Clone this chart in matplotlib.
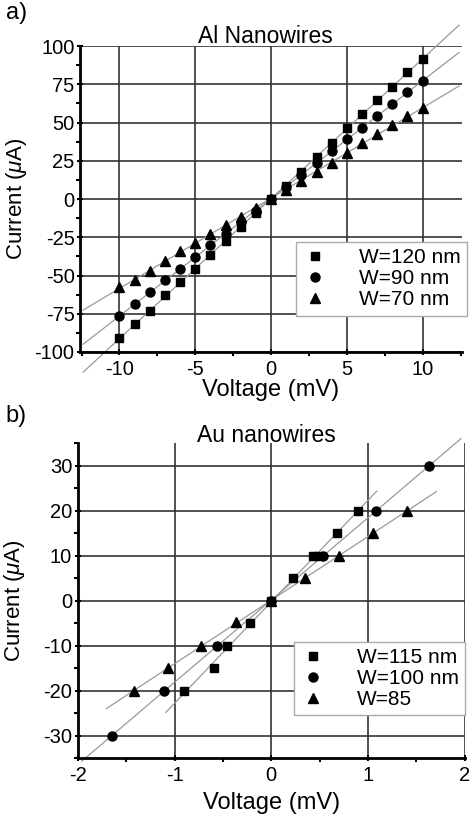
import numpy as np
import matplotlib
matplotlib.use("Agg")
import matplotlib.pyplot as plt
from matplotlib.ticker import MultipleLocator

plt.rcParams['font.family'] = ['Liberation Sans', 'DejaVu Sans']
plt.rcParams['mathtext.fontset'] = 'custom'
plt.rcParams['mathtext.rm'] = 'Liberation Sans'
plt.rcParams['mathtext.it'] = 'Liberation Sans:italic'
plt.rcParams['axes.unicode_minus'] = False

# a) Al nanowires
v_al = [-10, -9, -8, -7, -6, -5, -4, -3, -2, -1, 0, 1, 2, 3, 4, 5, 6, 7, 8, 9, 10]
i_al120 = [-91, -82, -73, -63, -54.5, -45.5, -36.6, -27.5, -18.3, -8.9, 0,
           8.5, 17.9, 27.7, 36.9, 46.4, 55.4, 64.5, 73.5, 82.8, 91.6]
i_al90 = [-76.5, -68.5, -61, -53.2, -45.5, -37.7, -30.3, -23, -15.2, -7.6, 0,
          7.7, 15.5, 23.8, 31.4, 39, 46.7, 54.5, 62.1, 69.8, 77.4]
i_al70 = [-57.7, -53.2, -47, -40.3, -34.2, -28.5, -22.7, -17, -11.5, -5.6, 0,
          6, 12, 17.7, 23.8, 30, 36.4, 42.7, 48.2, 54, 59.8]
labels_al = ['W=120 nm', 'W=90 nm', 'W=70 nm']

# b) Au nanowires
v_au115 = [-0.90, -0.59, -0.455, -0.224, 0, 0.22, 0.43, 0.48, 0.68, 0.895]
i_au115 = [-20, -15, -10, -5, 0, 5, 10, 10, 15, 20]
v_au100 = [-1.647, -1.11, -0.558, 0, 0.53, 1.085, 1.628]
i_au100 = [-30, -20, -10, 0, 10, 20, 30]
v_au85 = [-1.42, -1.068, -0.723, -0.362, 0, 0.347, 0.698, 1.05, 1.40]
i_au85 = [-20, -15, -10, -4.7, 0, 5, 10, 15, 20]
labels_au = ['W=115 nm', 'W=100 nm', 'W=85']

markers = ['s', 'o', '^']
msizes = [6.3, 6.5, 7.2]

fig = plt.figure(figsize=(4.71, 8.18), dpi=100)
ax1 = fig.add_axes([0.170, 0.5697, 0.811, 0.374])
ax2 = fig.add_axes([0.165, 0.073, 0.822, 0.385])


def style(ax):
    for s in ['top', 'right']:
        ax.spines[s].set_visible(False)
    for s in ['left', 'bottom']:
        ax.spines[s].set_linewidth(2)
    ax.grid(True, which='major', color='#333333', lw=1.2)
    ax.set_axisbelow(True)
    ax.tick_params(which='major', direction='inout', length=5, width=1.5,
                   labelsize=14.5, pad=1.5)
    ax.tick_params(axis='x', which='major', pad=3)
    ax.tick_params(which='minor', direction='out', length=3, width=1.5)


def fit_line(ax, v, i, ext):
    k = np.polyfit(v, i, 1)
    vmax = max(abs(np.array(v))) * ext
    xs = np.array([-vmax, vmax])
    ax.plot(xs, np.polyval(k, xs), color='#999999', lw=0.9, clip_on=False, zorder=2)


leg_kw = dict(loc='upper right', fontsize=15, fancybox=False, edgecolor='#aaaaaa',
              framealpha=1, handlelength=1.2, handletextpad=1.5, borderaxespad=0,
              labelspacing=0.1, borderpad=0.3)

# panel a
for v, i, m, ms, lab in zip([v_al] * 3, [i_al120, i_al90, i_al70], markers, msizes, labels_al):
    fit_line(ax1, v, i, 1.24)
    ax1.plot(v, i, m, color='black', ms=ms, label=lab, zorder=3, clip_on=False)
ax1.set_xlim(-12.6, 12.6)
ax1.set_ylim(-100, 100)
ax1.xaxis.set_major_locator(MultipleLocator(5))
ax1.xaxis.set_minor_locator(MultipleLocator(2.5))
ax1.yaxis.set_major_locator(MultipleLocator(25))
ax1.yaxis.set_minor_locator(MultipleLocator(12.5))
style(ax1)
ax1.set_xlabel('Voltage (mV)', fontsize=17)
ax1.set_ylabel('Current ($\\mu$A)', fontsize=16)
ax1.xaxis.set_label_coords(0.5, -0.088)
ax1.yaxis.set_label_coords(-0.135, 0.5)
ax1.text(0.484, 1.03, 'Al Nanowires', transform=ax1.transAxes,
         ha='center', va='center', fontsize=16.5)
ax1.legend(bbox_to_anchor=(1.012, 0.36), **leg_kw)

# panel b
for v, i, m, ms, lab, ext in zip([v_au115, v_au100, v_au85], [i_au115, i_au100, i_au85],
                                 markers, msizes, labels_au, [1.21, 1.19, 1.2]):
    fit_line(ax2, v, i, ext)
    ax2.plot(v, i, m, color='black', ms=ms, label=lab, zorder=3, clip_on=False)
ax2.set_xlim(-2, 2)
ax2.set_ylim(-35, 35)
ax2.xaxis.set_major_locator(MultipleLocator(1))
ax2.xaxis.set_minor_locator(MultipleLocator(0.5))
ax2.yaxis.set_major_locator(MultipleLocator(10))
ax2.yaxis.set_minor_locator(MultipleLocator(5))
style(ax2)
ax2.set_xlabel('Voltage (mV)', fontsize=17)
ax2.set_ylabel('Current ($\\mu$A)', fontsize=16)
ax2.xaxis.set_label_coords(0.5, -0.108)
ax2.yaxis.set_label_coords(-0.13, 0.5)
ax2.text(0.488, 1.025, 'Au nanowires', transform=ax2.transAxes,
         ha='center', va='center', fontsize=16.5)
ax2.legend(bbox_to_anchor=(1.0, 0.37), **leg_kw)

fig.text(0.012, 0.997, 'a)', fontsize=17, va='top', ha='left')
fig.text(0.012, 0.505, 'b)', fontsize=17, va='top', ha='left')

fig.savefig('out.png', dpi=100)
